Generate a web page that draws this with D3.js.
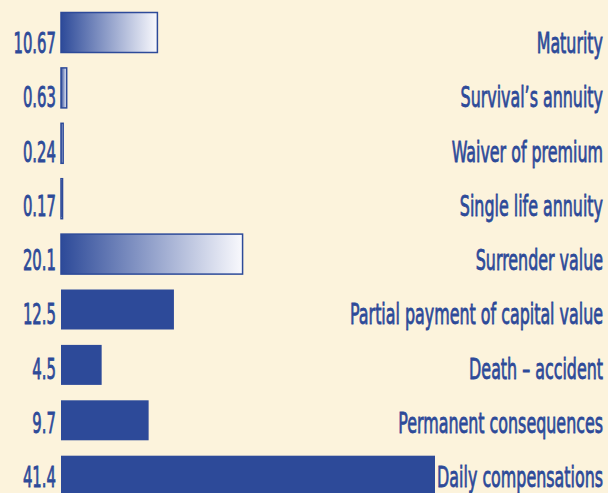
<!DOCTYPE html>
<html>
<head>
<meta charset="utf-8">
<script src="https://cdn.jsdelivr.net/npm/d3@7"></script>
<style>
  html, body { margin: 0; padding: 0; background: #fcf3dc; }
  svg { display: block; }
</style>
</head>
<body>
<div id="container"></div>
<script>
/* DATA */
const categories = ["Maturity", "Survival\u2019s annuity", "Waiver of premium", "Single life annuity",
  "Surrender value", "Partial payment of capital value", "Death \u2013 accident",
  "Permanent consequences", "Daily compensations"];
const values = [10.67, 0.63, 0.24, 0.17, 20.1, 12.5, 4.5, 9.7, 41.4];
const valueLabels = ["10.67", "0.63", "0.24", "0.17", "20.1", "12.5", "4.5", "9.7", "41.4"];
const gradientBars = ["Maturity", "Survival\u2019s annuity", "Waiver of premium", "Single life annuity", "Surrender value"];

/* CONSTANTS */
const width = 608;
const height = 493;
const blue = "#2d4a99";
const bg = "#fcf3dc";
const fontFamily = "'DejaVu Sans Condensed', 'DejaVu Sans', sans-serif";
const squeezeValue = 0.58;
const squeezeText = 0.62;

const data = categories.map((c, i) => ({ category: c, value: values[i], label: valueLabels[i] }));

/* SCALES */
const xScale = d3.scaleLinear()
  .domain([0, 41.4])
  .range([61, 435]);

const yScale = d3.scaleBand()
  .domain(categories)
  .range([12.5, 12.5 + 55.4 * 9 - 15.4])
  .paddingInner(15.4 / 55.4)
  .paddingOuter(0);

// text baselines run on a slightly tighter step than the bars
const textY = d3.scalePoint()
  .domain(categories)
  .range([53, 487]);

/* SVG */
const svg = d3.select("#container")
  .append("svg")
  .attr("width", width)
  .attr("height", height);

svg.append("rect")
  .attr("width", width)
  .attr("height", height)
  .attr("fill", bg);

const grad = svg.append("defs")
  .append("linearGradient")
  .attr("id", "fade")
  .attr("x1", "0%").attr("x2", "100%")
  .attr("y1", "0%").attr("y2", "0%");
grad.append("stop").attr("offset", "0%").attr("stop-color", blue);
grad.append("stop").attr("offset", "100%").attr("stop-color", "#f9f9fd");

// Bars
svg.selectAll("rect.bar")
  .data(data)
  .join("rect")
  .attr("class", "bar")
  .attr("x", xScale(0))
  .attr("y", d => yScale(d.category))
  .attr("width", d => xScale(d.value) - xScale(0))
  .attr("height", yScale.bandwidth())
  .attr("fill", d => gradientBars.includes(d.category) ? "url(#fade)" : blue)
  .attr("stroke", d => gradientBars.includes(d.category) ? blue : "none")
  .attr("stroke-width", 1.5);

// Value labels (left)
svg.selectAll("text.value")
  .data(data)
  .join("text")
  .attr("class", "value")
  .attr("transform", d => `translate(56,${textY(d.category)}) scale(${squeezeValue},1)`)
  .attr("text-anchor", "end")
  .attr("fill", blue)
  .attr("stroke", blue)
  .attr("stroke-width", 0.8)
  .style("font-family", fontFamily)
  .style("font-size", "28.5px")
  .text(d => d.label);

// Category labels (right)
svg.selectAll("text.cat")
  .data(data)
  .join("text")
  .attr("class", "cat")
  .attr("transform", d => `translate(603,${textY(d.category)}) scale(${squeezeText},1)`)
  .attr("text-anchor", "end")
  .attr("fill", blue)
  .attr("stroke", blue)
  .attr("stroke-width", 0.8)
  .style("font-family", fontFamily)
  .style("font-size", "28.5px")
  .text(d => d.category);
</script>
</body>
</html>
